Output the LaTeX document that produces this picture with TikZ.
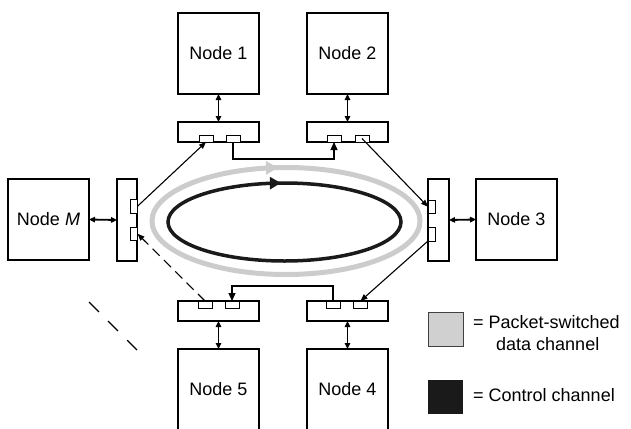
\documentclass[tikz,border=0pt]{standalone}
\usepackage{fontspec}
\setmainfont{Liberation Sans}
\usetikzlibrary{arrows.meta,decorations.markings}

\definecolor{ringgray}{HTML}{CCCCCC}
\definecolor{keygray}{HTML}{D0D0D0}
\definecolor{ringblack}{HTML}{1A1A1A}

\begin{document}
\begin{tikzpicture}[x=1pt,y=-1pt,
  txt/.style={font=\fontsize{18}{22}\selectfont},
  nodebox/.style={draw,line width=1.2pt,minimum width=81pt,minimum height=81pt,
    inner sep=0pt,outer sep=0pt,anchor=north west,txt},
  hif/.style={draw,line width=1.2pt,minimum width=81pt,minimum height=20pt,
    inner sep=0pt,outer sep=0pt,anchor=north west},
  vif/.style={draw,line width=1.2pt,minimum width=20pt,minimum height=82pt,
    inner sep=0pt,outer sep=0pt,anchor=north west},
  hport/.style={draw,line width=1pt,fill=white,minimum width=14pt,minimum height=7pt,
    inner sep=0pt,outer sep=0pt,anchor=north west},
  vport/.style={draw,line width=1pt,fill=white,minimum width=7.5pt,minimum height=13.5pt,
    inner sep=0pt,outer sep=0pt,anchor=north west},
  biarrow/.style={line width=1.8pt,{Triangle[length=6pt,width=5.5pt]}-{Triangle[length=6pt,width=5.5pt]}},
  conn/.style={line width=1.2pt,-{Triangle[length=8pt,width=7pt]}},
  diag/.style={line width=1.1pt,-{Triangle[length=7pt,width=5.5pt]}},
  keysq/.style={minimum width=35pt,minimum height=34pt,inner sep=0pt,outer sep=0pt,anchor=north west},
  ring/.style={postaction={decorate}}
]
\useasboundingbox (0,0) rectangle (631,428);

% ring channels
\draw[ring,draw=ringgray,line width=5pt,
  decoration={markings,mark=at position 0.737 with {\arrow[ringgray]{Triangle[length=12pt,width=13pt]}}}]
  (286,221) ellipse [x radius=134, y radius=53.5];
\draw[ring,draw=ringblack,line width=3.5pt,
  decoration={markings,mark=at position 0.743 with {\arrow[ringblack]{Triangle[length=11pt,width=12pt]}}}]
  (284.5,222) ellipse [x radius=116.5, y radius=39];

% stations
\node[nodebox] (n1) at (178,13) {Node 1};
\node[nodebox] (n2) at (307,13) {Node 2};
\node[nodebox] (nM) at (8,179) {Node \textit{M}};
\node[nodebox] (n3) at (476,179) {Node 3};
\node[nodebox] (n5) at (178,349) {Node 5};
\node[nodebox] (n4) at (307,349) {Node 4};

% interfaces
\node[hif] (i1) at (178,122) {};
\node[hif] (i2) at (307,122) {};
\node[vif] (iM) at (117,179) {};
\node[vif,minimum width=21pt] (i3) at (428,179) {};
\node[hif] (i5) at (178,301) {};
\node[hif] (i4) at (307,301) {};

% ports
\node[hport] (p1a) at (199,135) {};
\node[hport] (p1b) at (226,135) {};
\node[hport] (p2a) at (327,135) {};
\node[hport] (p2b) at (355,135) {};
\node[vport] (pMa) at (130,199.5) {};
\node[vport] (pMb) at (130,227) {};
\node[vport] (p3a) at (428,200) {};
\node[vport] (p3b) at (428,227.5) {};
\node[hport] (p5a) at (198,301) {};
\node[hport] (p5b) at (225,301) {};
\node[hport] (p4a) at (326,301) {};
\node[hport] (p4b) at (353.5,301) {};

% station <-> interface
\draw[biarrow] (n1.south) -- (i1.north);
\draw[biarrow] (n2.south) -- (i2.north);
\draw[biarrow] (nM.east) -- (iM.west);
\draw[biarrow] (i3.east) -- (n3.west);
\draw[biarrow] (i5.south) -- (n5.north);
\draw[biarrow] (i4.south) -- (n4.north);

% control hops
\draw[conn] (p1b.south) -- ++(0,17) -| (p2a.south);
\draw[conn] (p4a.north) -- ++(0,-15) -| (p5b.north);

% data hops
\draw[diag] (pMa.east) -- (p1a.south);
\draw[diag] (p2b.center) -- (p3a.west);
\draw[diag] (p3b.south west) -- (p4b.north);
\draw[diag,dashed,dash pattern=on 10pt off 6pt] (p5a.north) -- (pMb.east);

% further stations
\coordinate (gapA) at (89,302);
\coordinate (gapB) at (138,351);
\draw[line width=1.1pt,dash pattern=on 14pt off 13pt] (gapA) -- (gapB);

% key
\node[keysq,draw=black!75,line width=0.8pt,fill=keygray] (k1) at (428,312) {};
\node[keysq,fill=ringblack] (k2) at (428,379.5) {};
\node[txt,anchor=base west,inner sep=0pt] (k1t) at (473,328.5) {= Packet-switched};
\node[txt,anchor=base west,inner sep=0pt] (k1u) at (496,350.5) {data channel};
\node[txt,anchor=base west,inner sep=0pt] (k2t) at (473,401) {= Control channel};
\end{tikzpicture}
\end{document}
